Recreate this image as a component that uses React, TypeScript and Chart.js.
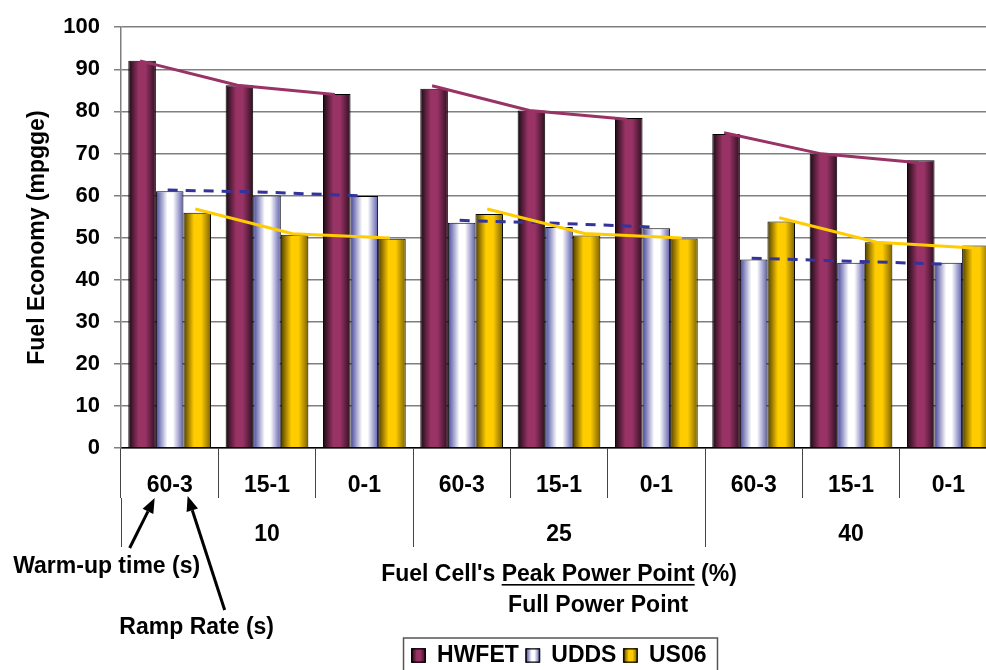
import React, { useEffect, useRef } from 'react';
import { Chart, registerables } from 'chart.js';

Chart.register(...registerables);

// ---- data ----
const categories = ['60-3', '15-1', '0-1', '60-3', '15-1', '0-1', '60-3', '15-1', '0-1'];
const groups = ['10', '25', '40'];
const seriesNames = ['HWFET', 'UDDS', 'US06'];

const hwfet = [92, 86.2, 84.1, 85.4, 80.2, 78.4, 74.6, 69.9, 68.4];
const udds = [61, 60, 59.9, 53.5, 52.5, 52.2, 44.8, 44, 44];
const us06 = [55.9, 50.7, 49.7, 55.6, 50.5, 49.8, 53.8, 48.9, 48.1];

const hwfetTrend = [92, 86.2, 84, 86.1, 80.2, 78.1, 74.9, 69.9, 67.8];
const uddsTrend = [61.3, 60.8, 59.9, 54.1, 53.4, 52.5, 45.1, 44.4, 43.7];
const us06Trend = [56.8, 50.9, 49.9, 56.8, 51.0, 49.9, 54.7, 48.9, 47.5];

const yMin = 0;
const yMax = 100;
const yStep = 10;

const FONT = '"Liberation Sans", Arial, Helvetica, sans-serif';
const CAT_PCT = 0.85;

const gradStops: [number, string][][] = [
  [[0, '#1a0a12'], [0.38, '#993366'], [0.62, '#993366'], [1, '#2d0f1f']],
  [[0, '#44449a'], [0.42, '#ffffff'], [0.62, '#ffffff'], [1, '#5c5cac']],
  [[0, '#4d3d00'], [0.38, '#ffcc00'], [0.64, '#ffcc00'], [1, '#7a6100']],
];
const solid = ['#993366', '#d8d8f0', '#ffcc00'];
const lineColors = ['#993366', '#333399', '#ffcc00'];
const trendData = [hwfetTrend, uddsTrend, us06Trend];

function barFill(s: number) {
  return (c: any) => {
    const chart = c.chart;
    const meta = chart.getDatasetMeta(c.datasetIndex);
    const el = meta && meta.data ? meta.data[c.dataIndex] : null;
    if (!el || el.x == null || isNaN(el.x) || !el.width) return solid[s];
    const g = chart.ctx.createLinearGradient(el.x - el.width / 2, 0, el.x + el.width / 2, 0);
    gradStops[s].forEach(([o, col]) => g.addColorStop(o, col));
    return g;
  };
}

function arrow(ctx: CanvasRenderingContext2D, x1: number, y1: number, x2: number, y2: number) {
  const ang = Math.atan2(y2 - y1, x2 - x1);
  const hl = 15;
  const hw = 6;
  const bx = x2 - hl * Math.cos(ang);
  const by = y2 - hl * Math.sin(ang);
  ctx.beginPath();
  ctx.moveTo(x1, y1);
  ctx.lineTo(bx, by);
  ctx.lineWidth = 3;
  ctx.strokeStyle = '#000';
  ctx.stroke();
  ctx.beginPath();
  ctx.moveTo(x2, y2);
  ctx.lineTo(bx + hw * Math.sin(ang), by - hw * Math.cos(ang));
  ctx.lineTo(bx - hw * Math.sin(ang), by + hw * Math.cos(ang));
  ctx.closePath();
  ctx.fillStyle = '#000';
  ctx.fill();
}

// trend lines through the bar positions of each series, one segment per group
const trendPlugin = {
  id: 'trend',
  afterDatasetsDraw(chart: any) {
    const { ctx } = chart;
    const ys = chart.scales.y;
    ctx.save();
    trendData.forEach((vals, s) => {
      const meta = chart.getDatasetMeta(s);
      ctx.strokeStyle = lineColors[s];
      ctx.lineWidth = 3;
      ctx.setLineDash(s === 1 ? [10, 8] : []);
      ctx.lineCap = 'butt';
      for (let g = 0; g < groups.length; g++) {
        ctx.beginPath();
        for (let k = 0; k < 3; k++) {
          const i = g * 3 + k;
          const el = meta.data[i];
          const x = el.x - 2;
          const y = ys.getPixelForValue(vals[i]);
          if (k === 0) ctx.moveTo(x, y);
          else ctx.lineTo(x, y);
        }
        ctx.stroke();
      }
    });
    ctx.restore();
  },
};

const annotPlugin = {
  id: 'annot',
  afterDraw(chart: any) {
    const { ctx, chartArea } = chart;
    const b = chartArea.bottom;
    const cx = chart.scales.x.getPixelForValue(0);
    ctx.save();
    ctx.fillStyle = '#000';
    ctx.font = `bold 23px ${FONT}`;
    ctx.textBaseline = 'middle';

    // axis title (fraction-style)
    const p1 = "Fuel Cell's ";
    const p2 = 'Peak Power Point';
    const p3 = ' (%)';
    const w1 = ctx.measureText(p1).width;
    const w2 = ctx.measureText(p2).width;
    const w3 = ctx.measureText(p3).width;
    const mid = (chartArea.left + chartArea.right) / 2;
    const x0 = mid - (w1 + w2 + w3) / 2;
    ctx.textAlign = 'left';
    ctx.fillText(p1, x0, b + 127);
    ctx.fillText(p2, x0 + w1, b + 127);
    ctx.fillText(p3, x0 + w1 + w2, b + 127);
    ctx.fillRect(x0 + w1, b + 136, w2, 1.6);
    ctx.textAlign = 'center';
    ctx.fillText('Full Power Point', x0 + w1 + w2 / 2, b + 158);

    // annotations
    ctx.fillText('Warm-up time (s)', cx - 63, b + 119);
    ctx.fillText('Ramp Rate (s)', cx + 27, b + 180);
    arrow(ctx, cx - 40, b + 100, cx - 15, b + 50);
    arrow(ctx, cx + 55, b + 162, cx + 18, b + 48);

    // legend boxes with gradient + border
    const hb = chart.legend && chart.legend.legendHitBoxes;
    if (hb && hb.length) {
      hb.forEach((h: any, i: number) => {
        const bs = 14;
        const yTop = h.top + (h.height - bs) / 2;
        const g = ctx.createLinearGradient(h.left, 0, h.left + bs, 0);
        gradStops[i].forEach(([o, col]) => g.addColorStop(o, col));
        ctx.fillStyle = g;
        ctx.fillRect(h.left, yTop, bs, bs);
        ctx.lineWidth = 1;
        ctx.strokeStyle = '#000';
        ctx.strokeRect(h.left + 0.5, yTop + 0.5, bs - 1, bs - 1);
      });
      const first = hb[0];
      const last = hb[hb.length - 1];
      const cy = first.top + first.height / 2;
      ctx.lineWidth = 1.5;
      ctx.strokeStyle = '#555';
      ctx.strokeRect(first.left - 8, cy - 17.5, last.left + last.width + 19 - first.left, 35);
    }
    ctx.restore();
  },
};

export default function App() {
  const ref = useRef<HTMLCanvasElement | null>(null);

  useEffect(() => {
    if (!ref.current) return;
    const barData = [hwfet, udds, us06];
    const datasets: any[] = barData.map((d, s) => ({
      type: 'bar',
      label: seriesNames[s],
      data: d,
      backgroundColor: barFill(s),
      borderColor: '#000',
      borderWidth: 1,
      barPercentage: 1,
      categoryPercentage: CAT_PCT,
    }));

    const chart = new Chart(ref.current, {
      type: 'bar',
      data: { labels: categories, datasets },
      options: {
        responsive: false,
        animation: false,
        devicePixelRatio: 1,
        layout: { padding: { top: 16, left: 0, right: 0, bottom: 0 } },
        plugins: {
          tooltip: { enabled: false },
          legend: {
            position: 'bottom',
            fullSize: false,
            maxHeight: 33,
            labels: {
              generateLabels: () =>
                seriesNames.map((n, i) => ({
                  text: n,
                  fillStyle: solid[i],
                  strokeStyle: '#000',
                  lineWidth: 1,
                  hidden: false,
                  datasetIndex: i,
                  fontColor: '#000',
                })),
              boxWidth: 14,
              boxHeight: 14,
              padding: 7,
              color: '#000',
              font: { family: FONT, size: 23, weight: 'bold' },
            },
          },
        },
        scales: {
          x: {
            type: 'category',
            position: 'bottom',
            weight: 0,
            offset: true,
            grid: {
              display: true,
              drawOnChartArea: false,
              drawTicks: true,
              tickLength: 50,
              offset: true,
              color: '#444',
              lineWidth: 1,
            },
            border: { display: true, color: '#000', width: 1.5 },
            ticks: {
              color: '#000',
              padding: -26,
              autoSkip: false,
              maxRotation: 0,
              font: { family: FONT, size: 23, weight: 'bold' },
            },
            afterFit: (s: any) => {
              s.height = 50;
            },
          },
          x2: {
            type: 'category',
            labels: groups,
            position: 'bottom',
            weight: 1,
            offset: true,
            grid: {
              display: true,
              drawOnChartArea: false,
              drawTicks: true,
              tickLength: 49,
              offset: true,
              color: '#444',
              lineWidth: 1,
            },
            border: { display: false },
            ticks: {
              color: '#000',
              padding: -26,
              autoSkip: false,
              maxRotation: 0,
              font: { family: FONT, size: 23, weight: 'bold' },
            },
            afterFit: (s: any) => {
              s.height = 139;
            },
          },
          y: {
            min: yMin,
            max: yMax,
            ticks: {
              stepSize: yStep,
              color: '#000',
              padding: 14,
              font: { family: FONT, size: 22, weight: 'bold' },
            },
            grid: { color: '#7f7f7f', lineWidth: 1.5, tickLength: 7, drawTicks: true },
            border: { display: true, color: '#7f7f7f', width: 1.5 },
            title: {
              display: true,
              text: 'Fuel Economy (mpgge)',
              color: '#000',
              padding: { top: 24, bottom: 0 },
              font: { family: FONT, size: 23, weight: 'bold' },
            },
            afterFit: (s: any) => {
              s.width = 121;
            },
          },
        },
      } as any,
      plugins: [trendPlugin, annotPlugin],
    });
    chart.update();
    return () => chart.destroy();
  }, []);

  return (
    <div
      style={{
        position: 'fixed',
        left: 0,
        top: 0,
        width: 986,
        height: 670,
        overflow: 'hidden',
        background: '#fff',
      }}
    >
      <canvas ref={ref} width={997} height={670} style={{ display: 'block' }} />
    </div>
  );
}
